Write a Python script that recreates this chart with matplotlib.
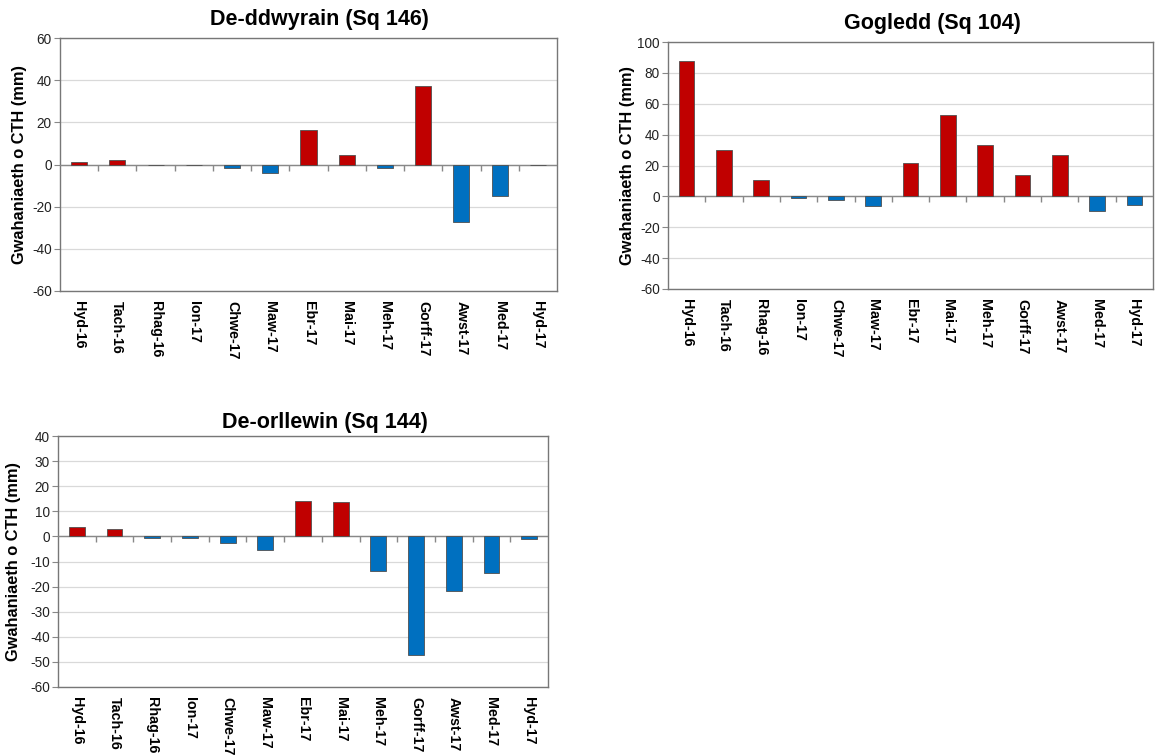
import matplotlib
matplotlib.use("Agg")
import matplotlib.pyplot as plt
import numpy as np

plt.rcParams['font.family'] = ['Liberation Sans', 'DejaVu Sans']
plt.rcParams['axes.unicode_minus'] = False

months = ["Hyd-16", "Tach-16", "Rhag-16", "Ion-17", "Chwe-17", "Maw-17", "Ebr-17",
          "Mai-17", "Meh-17", "Gorff-17", "Awst-17", "Med-17", "Hyd-17"]

se_title = "De-ddwyrain (Sq 146)"
se_values = [1.3, 1.9, -0.3, -0.3, -1.7, -3.8, 16.4, 4.7, -1.6, 37.2, -27.4, -14.8, -0.3]

n_title = "Gogledd (Sq 104)"
n_values = [88.0, 30.2, 10.9, -0.9, -2.6, -6.3, 21.3, 52.4, 33.5, 14.1, 26.7, -9.3, -5.4]

sw_title = "De-orllewin (Sq 144)"
sw_values = [3.7, 2.9, -0.5, -0.5, -2.8, -5.3, 14.0, 13.8, -13.6, -47.2, -21.6, -14.4, -0.9]

ylabel = "Gwahaniaeth o CTH (mm)"
RED = "#C00000"
BLUE = "#0070C0"

W, H = 1159, 756
fig = plt.figure(figsize=(W / 100, H / 100), dpi=100)


def px_axes(l, t, r, b):
    return fig.add_axes([l / W, 1 - b / H, (r - l) / W, (b - t) / H])


def panel(ax, title, values, ylim, step, title_x, title_pad, ylab_x):
    x = np.arange(len(months))
    colors = [RED if v >= 0 else BLUE for v in values]
    ax.set_xlim(-0.5, len(months) - 0.5)
    ax.set_ylim(*ylim)
    ax.set_yticks(np.arange(ylim[0], ylim[1] + step / 2, step))
    ax.grid(axis="y", color="#d9d9d9", linewidth=0.9, zorder=0)
    ax.axhline(0, color="#888888", linewidth=1.0, zorder=3)
    # category boundary ticks on the zero line
    bounds = np.arange(len(months) - 1) + 0.5
    ax.plot(bounds, np.zeros_like(bounds), linestyle="none", marker=3, markersize=4,
            markeredgecolor="#888888", markeredgewidth=1.0, zorder=3, clip_on=False)
    ax.bar(x, values, width=0.42, color=colors, edgecolor="#505050", linewidth=0.6, zorder=4)
    ax.set_xticks(x)
    ax.set_xticklabels(months, rotation=270, fontsize=10.3, fontweight="bold", color="#000000")
    ax.tick_params(axis="x", length=0, pad=7)
    ax.tick_params(axis="y", length=4, width=0.8, color="#888888", labelsize=9.8,
                   labelcolor="#222222", pad=2)
    for s in ax.spines.values():
        s.set_color("#777777")
        s.set_linewidth(1.0)
    ax.set_title(title, fontsize=15.5, fontweight="bold", x=title_x, pad=title_pad)
    ax.set_ylabel(ylabel, fontsize=11.8, fontweight="bold")
    ax.yaxis.set_label_coords(ylab_x, 0.5)


ax1 = px_axes(60, 38, 557, 291)
panel(ax1, se_title, se_values, (-60, 60), 20, 0.523, 9.0, -0.066)

ax2 = px_axes(668, 42, 1153, 289)
panel(ax2, n_title, n_values, (-60, 100), 20, 0.546, 9.0, -0.068)

ax3 = px_axes(58, 436, 548, 687)
panel(ax3, sw_title, sw_values, (-60, 40), 10, 0.545, 6.0, -0.076)

fig.savefig("out.png", dpi=100)
